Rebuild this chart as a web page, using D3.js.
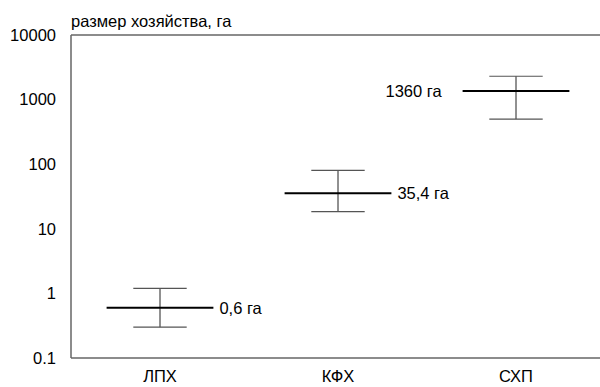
<!DOCTYPE html>
<html>
<head>
<meta charset="utf-8">
<script src="https://cdn.jsdelivr.net/npm/d3@7"></script>
<style>
  html, body { margin: 0; padding: 0; background: #fff; }
  svg { display: block; font-family: "Liberation Sans", Arial, Helvetica, sans-serif; }
</style>
</head>
<body>
<svg id="chart" width="600" height="387"></svg>
<script>
// Farm types and their size ranges (hectares)
const categories = ["ЛПХ", "КФХ", "СХП"];
const medians = [0.6, 35.4, 1360];
const upper = [1.2, 80, 2300];
const lower = [0.3, 18.5, 500];
const medianLabels = ["0,6 га", "35,4 га", "1360 га"];
const tickValues = [0.1, 1, 10, 100, 1000, 10000];
const tickLabels = ["0.1", "1", "10", "100", "1000", "10000"];
const yTitle = "размер хозяйства, га";

const svg = d3.select("#chart");
const margin = { left: 71, right: 0, top: 35, bottom: 29 };
const W = 600, H = 387;

const x = d3.scaleBand()
  .domain(categories)
  .range([margin.left, margin.left + 3 * 178])
  .paddingInner(0).paddingOuter(0);

const y = d3.scaleLog()
  .domain([0.1, 10000])
  .range([H - margin.bottom, margin.top]);

const axisColor = "#666";
const fontSize = 16.5;
const fontFamily = "'Liberation Sans', Arial, sans-serif";

// Y axis: labels only, no tick marks
const yAxis = d3.axisLeft(y)
  .tickValues(tickValues)
  .tickFormat((d, i) => tickLabels[i])
  .tickSize(0)
  .tickPadding(15);

const gy = svg.append("g")
  .attr("transform", `translate(${margin.left},0)`)
  .call(yAxis);
gy.select(".domain").remove();
gy.selectAll("text")
  .attr("font-size", fontSize)
  .attr("font-family", fontFamily)
  .attr("fill", "#000");

// X axis: category labels below the plot
const xAxis = d3.axisBottom(x).tickSize(0).tickPadding(12);
const gx = svg.append("g")
  .attr("transform", `translate(0,${y(0.1)})`)
  .call(xAxis);
gx.select(".domain").remove();
gx.selectAll("text")
  .attr("font-size", fontSize)
  .attr("font-family", fontFamily)
  .attr("fill", "#000");

// Frame lines: left, top and bottom
svg.append("line")
  .attr("x1", margin.left).attr("x2", margin.left)
  .attr("y1", y(10000)).attr("y2", y(0.1))
  .attr("stroke", axisColor).attr("stroke-width", 1.5);
svg.append("line")
  .attr("x1", margin.left).attr("x2", W)
  .attr("y1", y(10000)).attr("y2", y(10000))
  .attr("stroke", axisColor).attr("stroke-width", 1.5);
svg.append("line")
  .attr("x1", margin.left).attr("x2", W)
  .attr("y1", y(0.1)).attr("y2", y(0.1))
  .attr("stroke", axisColor).attr("stroke-width", 1.5);

// Axis title
svg.append("text")
  .attr("x", margin.left)
  .attr("y", y(10000) - 8)
  .attr("font-size", fontSize)
  .attr("font-family", fontFamily)
  .attr("fill", "#000")
  .text(yTitle);

// Range whiskers and median bars
const bw = x.bandwidth();
const g = svg.append("g");
categories.forEach((c, i) => {
  const cx = x(c) + bw / 2;
  // vertical whisker
  g.append("line")
    .attr("x1", cx).attr("x2", cx)
    .attr("y1", y(upper[i])).attr("y2", y(lower[i]))
    .attr("stroke", "#222").attr("stroke-width", 1);
  // caps
  [upper[i], lower[i]].forEach(v => {
    g.append("line")
      .attr("x1", cx - bw * 0.15).attr("x2", cx + bw * 0.15)
      .attr("y1", y(v)).attr("y2", y(v))
      .attr("stroke", "#555").attr("stroke-width", 1.2);
  });
  // median bar
  g.append("line")
    .attr("x1", cx - bw * 0.3).attr("x2", cx + bw * 0.3)
    .attr("y1", y(medians[i])).attr("y2", y(medians[i]))
    .attr("stroke", "#000").attr("stroke-width", 2);
  // median label
  const right = i < 2;
  g.append("text")
    .attr("x", right ? cx + bw * 0.3 + 6 : cx - bw * 0.3 - 21)
    .attr("y", y(medians[i]))
    .attr("dy", "0.35em")
    .attr("text-anchor", right ? "start" : "end")
    .attr("font-size", fontSize)
    .attr("font-family", fontFamily)
    .attr("fill", "#000")
    .text(medianLabels[i]);
});
</script>
</body>
</html>
